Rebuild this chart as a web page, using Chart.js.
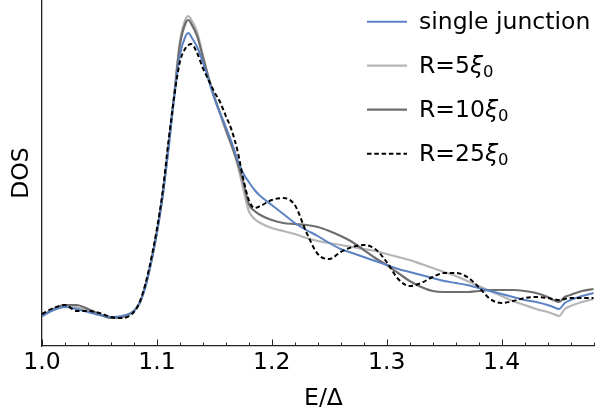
<!DOCTYPE html>
<html>
<head>
<meta charset="utf-8">
<script src="https://cdn.jsdelivr.net/npm/chart.js@4/dist/chart.umd.min.js"></script>
<style>
html,body{margin:0;padding:0;background:#fff;overflow:hidden;}
#wrap{width:595px;height:418px;overflow:hidden;position:relative;}
#c{position:absolute;left:0;top:0;}
</style>
</head>
<body>
<div id="wrap"><canvas id="c" width="605" height="418"></canvas></div>
<script>
// ---- data ----
const energies = [1.00,1.01,1.02,1.03,1.04,1.05,1.06,1.07,1.08,1.085,1.09,1.095,1.10,1.105,1.11,1.115,1.12,1.125,1.1275,1.13,1.135,1.14,1.145,1.15,1.155,1.16,1.165,1.17,1.175,1.18,1.185,1.19,1.20,1.21,1.22,1.23,1.24,1.25,1.26,1.27,1.28,1.29,1.30,1.31,1.32,1.33,1.34,1.35,1.36,1.37,1.38,1.39,1.40,1.41,1.42,1.43,1.44,1.445,1.45,1.455,1.46,1.47,1.48];
const dosSingle = [0.30,0.36,0.39,0.37,0.34,0.31,0.29,0.30,0.35,0.43,0.59,0.84,1.13,1.50,1.96,2.48,2.91,3.10,3.13,3.09,2.99,2.84,2.66,2.48,2.33,2.19,2.04,1.87,1.73,1.64,1.56,1.50,1.41,1.32,1.23,1.16,1.10,1.03,0.97,0.93,0.89,0.85,0.81,0.77,0.74,0.71,0.68,0.65,0.63,0.61,0.58,0.55,0.52,0.49,0.46,0.44,0.41,0.39,0.37,0.43,0.46,0.50,0.53];
const dosR5 = [0.30,0.36,0.40,0.39,0.35,0.31,0.29,0.30,0.35,0.43,0.60,0.84,1.14,1.51,1.99,2.51,3.04,3.27,3.30,3.26,3.14,2.91,2.68,2.48,2.32,2.15,2.00,1.82,1.58,1.35,1.27,1.23,1.18,1.15,1.12,1.08,1.05,1.03,1.01,0.99,0.97,0.95,0.92,0.89,0.86,0.82,0.78,0.74,0.70,0.65,0.60,0.55,0.50,0.45,0.41,0.37,0.34,0.32,0.30,0.37,0.40,0.44,0.47];
const dosR10 = [0.30,0.37,0.41,0.41,0.37,0.32,0.28,0.29,0.35,0.43,0.60,0.84,1.14,1.51,1.99,2.50,3.01,3.23,3.26,3.22,3.10,2.89,2.68,2.49,2.33,2.17,2.01,1.84,1.65,1.42,1.35,1.31,1.26,1.23,1.22,1.21,1.19,1.15,1.10,1.04,0.96,0.88,0.81,0.73,0.65,0.59,0.55,0.54,0.54,0.54,0.55,0.56,0.56,0.56,0.55,0.53,0.49,0.46,0.44,0.49,0.51,0.55,0.57];
const dosR25 = [0.32,0.38,0.41,0.35,0.35,0.33,0.29,0.28,0.34,0.44,0.62,0.87,1.17,1.54,2.04,2.49,2.84,2.98,3.01,3.02,2.93,2.78,2.66,2.54,2.44,2.30,2.16,1.96,1.68,1.46,1.38,1.40,1.46,1.48,1.41,1.14,0.92,0.87,0.94,0.99,1.01,0.97,0.84,0.67,0.60,0.63,0.69,0.73,0.73,0.69,0.59,0.47,0.43,0.45,0.48,0.49,0.48,0.47,0.46,0.47,0.48,0.48,0.48];
const seriesLabels = ['single junction','R=5ξ₀','R=10ξ₀','R=25ξ₀'];
const xTickValues = [1.0,1.1,1.2,1.3,1.4];
const xTickLabels = ['1.0','1.1','1.2','1.3','1.4'];
const xMinorTickValues = [1.00,1.02,1.04,1.06,1.08,1.10,1.12,1.14,1.16,1.18,1.20,1.22,1.24,1.26,1.28,1.30,1.32,1.34,1.36,1.38,1.40,1.42,1.44,1.46,1.48];

const FONT = '"DejaVu Sans", sans-serif';
const FS = 23.5;
const toPts = arr => arr.map((v,i)=>({x:energies[i], y:v}));

const styles = [
  {color:'#5b82c2', width:2, dash:[]},
  {color:'#b5b5b5', width:2.2, dash:[]},
  {color:'#6e6e6e', width:2.2, dash:[]},
  {color:'#000000', width:2, dash:[4.5,2.8]}
];
const seriesData = [dosSingle, dosR5, dosR10, dosR25];
const drawOrder = [2,4,3,1]; // lower draws on top

const datasets = seriesData.map((d,i)=>({
  label: seriesLabels[i],
  data: toPts(d),
  borderColor: styles[i].color,
  borderWidth: styles[i].width,
  borderDash: styles[i].dash,
  pointRadius: 0,
  fill: false,
  order: drawOrder[i],
  cubicInterpolationMode: 'monotone'
}));

const inwardTicks = {
  id:'inwardTicks',
  afterDraw(chart){
    const {ctx, scales:{x}} = chart;
    const bottom = chart.chartArea.bottom;
    ctx.save();
    ctx.strokeStyle = '#222';
    ctx.lineWidth = 1;
    xMinorTickValues.forEach(v=>{
      const px = Math.round(x.getPixelForValue(v)) + 0.5;
      const major = xTickValues.some(t=>Math.abs(t-v)<1e-9);
      const len = major ? 6.5 : 3.5;
      ctx.beginPath();
      ctx.moveTo(px, bottom);
      ctx.lineTo(px, bottom - len);
      ctx.stroke();
    });
    ctx.restore();
  }
};

function drawRichLabel(ctx, text, x, y){
  let cx = x;
  ctx.fillStyle = '#000';
  ctx.textBaseline = 'alphabetic';
  ctx.textAlign = 'left';
  for (const ch of text){
    if (ch === 'ξ'){
      ctx.font = 'oblique ' + FS + 'px ' + FONT;
      ctx.fillText(ch, cx, y);
      cx += ctx.measureText(ch).width;
    } else if (ch === '₀'){
      ctx.font = (FS*0.7) + 'px ' + FONT;
      ctx.fillText('0', cx, y + 3.8);
      cx += ctx.measureText('0').width;
    } else {
      ctx.font = FS + 'px ' + FONT;
      ctx.fillText(ch, cx, y);
      cx += ctx.measureText(ch).width;
    }
  }
}

const customLegend = {
  id:'customLegend',
  afterDraw(chart){
    const ctx = chart.ctx;
    ctx.save();
    chart.data.datasets.forEach((ds,i)=>{
      const ly = 21.7 + i*44;
      ctx.beginPath();
      ctx.strokeStyle = ds.borderColor;
      ctx.lineWidth = ds.borderWidth;
      ctx.setLineDash(ds.borderDash || []);
      ctx.moveTo(367, ly);
      ctx.lineTo(407, ly);
      ctx.stroke();
      ctx.setLineDash([]);
      drawRichLabel(ctx, ds.label, 419, 28.6 + i*44.2);
    });
    ctx.restore();
  }
};

new Chart(document.getElementById('c'), {
  type:'line',
  data:{datasets},
  plugins:[inwardTicks, customLegend],
  options:{
    responsive:false,
    animation:false,
    events:[],
    layout:{padding:{left:0,right:0,top:0,bottom:0}},
    plugins:{legend:{display:false}, tooltip:{enabled:false}},
    scales:{
      x:{
        type:'linear',
        min:1.0, max:1.49,
        afterBuildTicks: s => { s.ticks = xTickValues.map(v=>({value:v})); },
        afterFit: s => { s.height = 72; },
        grid:{display:false, drawTicks:false},
        border:{display:true, color:'#222', width:1.3},
        ticks:{
          padding:3,
          color:'#000',
          font:{family:FONT, size:FS},
          maxRotation:0,
          autoSkip:false,
          callback:(v)=>{ const i = xTickValues.findIndex(t=>Math.abs(t-v)<1e-9); return i>=0 ? xTickLabels[i] : ''; }
        },
        title:{display:true, text:'E/Δ', color:'#000', font:{family:FONT, size:FS}, padding:{top:0,bottom:5}}
      },
      y:{
        type:'linear',
        min:0, max:3.46,
        afterFit: s => { s.width = 42; },
        grid:{display:false, drawTicks:false},
        border:{display:true, color:'#222', width:1.3},
        ticks:{display:false},
        title:{display:true, text:'DOS', color:'#000', font:{family:FONT, size:FS}, padding:{top:8,bottom:0}}
      }
    }
  }
});
</script>
</body>
</html>
